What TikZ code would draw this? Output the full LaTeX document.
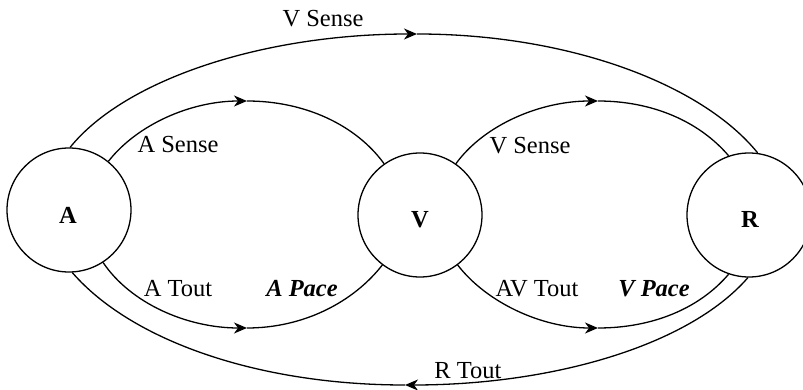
\documentclass[tikz,border=0pt]{standalone}
\usepackage{fontspec}
\setmainfont{Liberation Serif}
\usetikzlibrary{arrows.meta}
\begin{document}
\begin{tikzpicture}[x=1pt,y=1pt,
  state/.style={draw,circle,line width=1.3pt,minimum size=124pt,inner sep=0pt},
  lbl/.style={anchor=base,inner sep=0pt,font=\fontsize{24.5}{28}\selectfont},
  slbl/.style={lbl,font=\fontsize{24.5}{28}\selectfont\bfseries},
  plbl/.style={lbl,font=\fontsize{24.5}{28}\selectfont\bfseries\itshape},
  edge/.style={line width=1.3pt},
  tip/.style={edge,-{Stealth[length=13pt,width=11pt,inset=4pt]}}
]
\useasboundingbox (0,0) rectangle (803,-390);
\node[state] (A) at (69,-210) {};
\node[state] (V) at (420,-215) {};
\node[state] (R) at (749,-215) {};
\node[slbl] (Al) at (68,-223) {A};
\node[slbl] (Vl) at (420,-227) {V};
\node[slbl] (Rl) at (750,-228) {R};

\coordinate (as) at (247,-101);
\coordinate (vs) at (598,-101);
\coordinate (vo) at (417,-34);
\coordinate (at) at (247,-328);
\coordinate (avt) at (598,-328);
\coordinate (rt) at (405,-385);

% A Sense
\draw[tip] (A.51) to[out=52,in=180,out distance=46.8pt,in distance=56pt] (as);
\draw[edge] (as) to[out=0,in=126,out distance=57.8pt,in distance=48pt] (V.125);
% V Sense (inner)
\draw[tip] (V.55) to[out=54,in=180,out distance=48pt,in distance=57.8pt] (vs);
\draw[edge] (vs) to[out=0,in=130.5,out distance=54pt,in distance=45.6pt] (R.109);
% V Sense (outer)
\draw[tip] (A.89) to[out=51,in=180,out distance=88.8pt,in distance=151.8pt] (vo);
\draw[edge] (vo) to[out=0,in=129,out distance=151.8pt,in distance=88.8pt] (R.82);
% A Tout / A Pace
\draw[tip] (A.-57) to[out=-56,in=180,out distance=49.3pt,in distance=60pt] (at);
\draw[edge] (at) to[out=0,in=232,out distance=56.6pt,in distance=47.2pt] (V.233);
% AV Tout / V Pace
\draw[tip] (V.-53) to[out=-52.4,in=180,out distance=47.2pt,in distance=56.6pt] (avt);
\draw[edge] (avt) to[out=0,in=229.5,out distance=54pt,in distance=45.6pt] (R.251);
% R Tout
\draw[tip] (R.269) to[out=229,in=0,out distance=91pt,in distance=145.9pt] (rt);
\draw[edge] (rt) to[out=180,in=-49,out distance=145.9pt,in distance=91pt] (A.-87);

\node[lbl] (l1) at (323,-27) {V Sense};
\node[lbl] (l2) at (178,-153) {A Sense};
\node[lbl] (l3) at (530,-154) {V Sense};
\node[lbl] (l4) at (178,-296) {A Tout};
\node[plbl] (l5) at (302,-296) {A Pace};
\node[lbl] (l6) at (537,-296) {AV Tout};
\node[plbl] (l7) at (654,-296) {V Pace};
\node[lbl] (l8) at (468,-378) {R Tout};
\end{tikzpicture}
\end{document}
